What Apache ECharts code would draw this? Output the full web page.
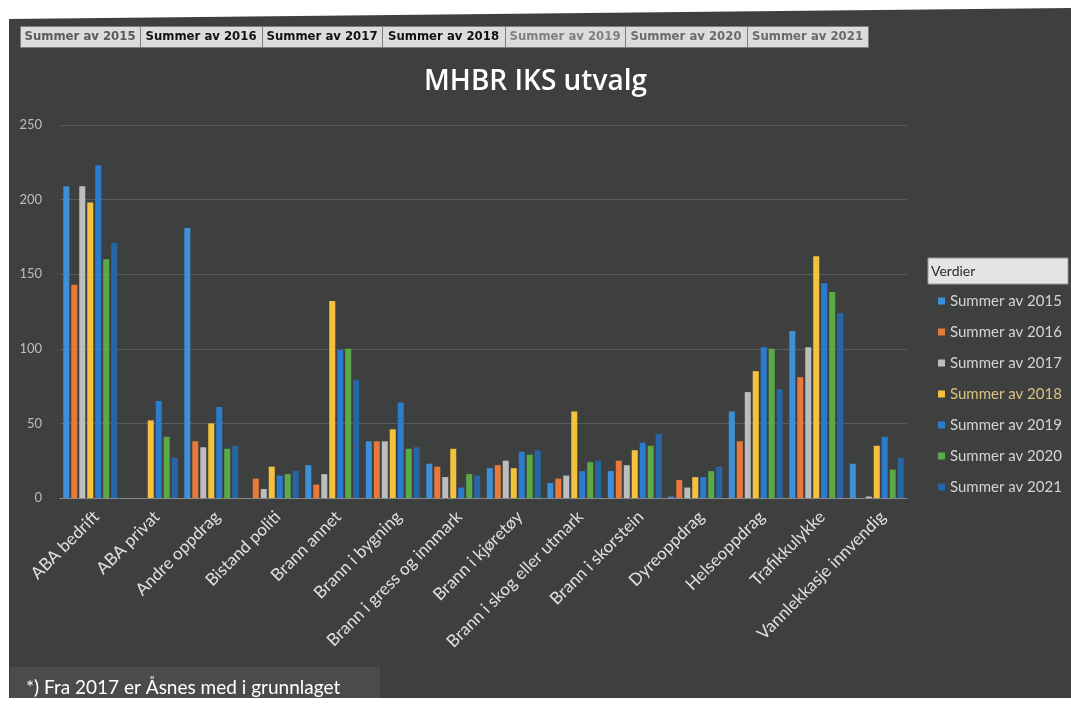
<!DOCTYPE html>
<html>
<head>
<meta charset="utf-8">
<title>MHBR IKS utvalg</title>
<script src="https://cdn.jsdelivr.net/npm/echarts@6/dist/echarts.min.js"></script>
<style>
    html, body {margin: 0; padding: 0; background: #ffffff;}
    #chart {width: 1071px; height: 704px;}
</style>
</head>
<body>
<div id="chart"></div>
<script>
const categories = ['ABA bedrift', 'ABA privat', 'Andre oppdrag', 'Bistand politi', 'Brann annet',
    'Brann i bygning', 'Brann i gress og innmark', 'Brann i kjøretøy', 'Brann i skog eller utmark',
    'Brann i skorstein', 'Dyreoppdrag', 'Helseoppdrag', 'Trafikkulykke', 'Vannlekkasje innvendig'];
const seriesNames = ['Summer av 2015', 'Summer av 2016', 'Summer av 2017', 'Summer av 2018',
    'Summer av 2019', 'Summer av 2020', 'Summer av 2021'];
const v2015 = [209, 0, 181, 0, 22, 38, 23, 20, 10, 18, 1, 58, 112, 23];
const v2016 = [143, 0, 38, 13, 9, 38, 21, 22, 13, 25, 12, 38, 81, 0];
const v2017 = [209, 0, 34, 6, 16, 38, 14, 25, 15, 22, 7, 71, 101, 1];
const v2018 = [198, 52, 50, 21, 132, 46, 33, 20, 58, 32, 14, 85, 162, 35];
const v2019 = [223, 65, 61, 15, 99, 64, 7, 31, 18, 37, 14, 101, 144, 41];
const v2020 = [160, 41, 33, 16, 100, 33, 16, 29, 24, 35, 18, 100, 138, 19];
const v2021 = [171, 27, 35, 18, 79, 34, 15, 32, 25, 43, 21, 73, 124, 27];
const yTicks = [0, 50, 100, 150, 200, 250];

const values = [v2015, v2016, v2017, v2018, v2019, v2020, v2021];
const colors = ['#3d8fd8', '#e8793a', '#bdbdbd', '#f4c23f', '#2b7bcf', '#5aab46', '#2766a6'];
const tabTextColors = ['#5a5a5a', '#111111', '#111111', '#111111', '#808080', '#6a6a6a', '#6a6a6a'];
const tabX = [20, 140, 262, 382, 505, 625, 747, 868];

let chartDom = document.getElementById('chart');
let myChart = echarts.init(chartDom);

// knappene oeverst (pivot-felt)
let graphics = [];
for (let i = 0; i < seriesNames.length; i++) {
    graphics.push({
        type: 'rect',
        shape: {x: tabX[i] + 0.5, y: 26.5, width: tabX[i + 1] - tabX[i], height: 21},
        style: {fill: '#dcdcdc', stroke: '#7d7d7d', lineWidth: 1}
    });
    graphics.push({
        type: 'text',
        x: tabX[i] + (tabX[i + 1] - tabX[i]) / 2,
        y: 37,
        style: {
            text: seriesNames[i],
            fill: tabTextColors[i],
            font: 'bold 13px "DejaVu Sans Condensed", "Liberation Sans", sans-serif',
            align: 'center',
            verticalAlign: 'middle'
        }
    });
}
// hvite kanter fra skanningen
graphics.push({
    type: 'polygon',
    shape: {points: [[0, 0], [1071, 0], [1071, 8], [7, 19], [0, 19]]},
    style: {fill: '#ffffff'}
});
graphics.push({type: 'rect', shape: {x: 0, y: 0, width: 9, height: 704}, style: {fill: '#ffffff'}});
graphics.push({type: 'rect', shape: {x: 0, y: 698, width: 1071, height: 6}, style: {fill: '#ffffff'}});
// legend-overskrift
graphics.push({
    type: 'rect',
    shape: {x: 928, y: 258, width: 140, height: 26},
    style: {fill: '#e4e4e4', stroke: '#9a9a9a', lineWidth: 1}
});
graphics.push({
    type: 'text', x: 931, y: 271,
    style: {text: 'Verdier', fill: '#2a2a2a', font: '14px Lato, sans-serif', verticalAlign: 'middle'}
});
// fotnote
graphics.push({
    type: 'rect',
    shape: {x: 10, y: 667, width: 370, height: 31},
    style: {fill: '#4a4b4b'}
});
graphics.push({
    type: 'text', x: 26, y: 688,
    style: {text: '*) Fra 2017 er Åsnes med i grunnlaget', fill: '#ffffff', font: '19px Lato, sans-serif', verticalAlign: 'middle'}
});

let series = [];
for (let i = 0; i < seriesNames.length; i++) {
    series.push({
        name: seriesNames[i],
        type: 'bar',
        data: values[i],
        barWidth: 6,
        barGap: '33%',
        itemStyle: {color: colors[i]}
    });
}

let legendData = seriesNames.map((n, i) => ({
    name: n,
    textStyle: {color: i === 3 ? '#d9c27c' : '#d4d4d4'}
}));

let option = {
    backgroundColor: '#3e4040',
    animation: false,
    textStyle: {fontFamily: 'Lato, sans-serif'},
    title: {
        text: 'MHBR IKS utvalg',
        left: 'center',
        top: 63,
        textStyle: {color: '#ffffff', fontSize: 28, fontWeight: 600, fontFamily: '"Open Sans", sans-serif'}
    },
    legend: {
        orient: 'vertical',
        left: 933,
        top: 288,
        itemWidth: 7,
        itemHeight: 7,
        itemGap: 15,
        icon: 'rect',
        data: legendData,
        textStyle: {fontSize: 15, lineHeight: 16, color: '#d4d4d4'}
    },
    grid: {left: 60, top: 125, width: 847, height: 373, containLabel: false},
    xAxis: {
        type: 'category',
        data: categories,
        axisTick: {show: false},
        axisLine: {lineStyle: {color: '#8a8a8a', width: 1}},
        axisLabel: {rotate: 45, color: '#e0e0e0', fontSize: 17, margin: 10, interval: 0, verticalAlign: 'top'}
    },
    yAxis: {
        type: 'value',
        min: yTicks[0],
        max: yTicks[yTicks.length - 1],
        interval: 50,
        axisLine: {show: false},
        axisTick: {show: false},
        axisLabel: {color: '#bdbdbd', fontSize: 13, margin: 18},
        splitLine: {lineStyle: {color: '#5a5c5c', width: 1}}
    },
    graphic: graphics,
    series: series
};
option && myChart.setOption(option);
</script>
</body>
</html>
